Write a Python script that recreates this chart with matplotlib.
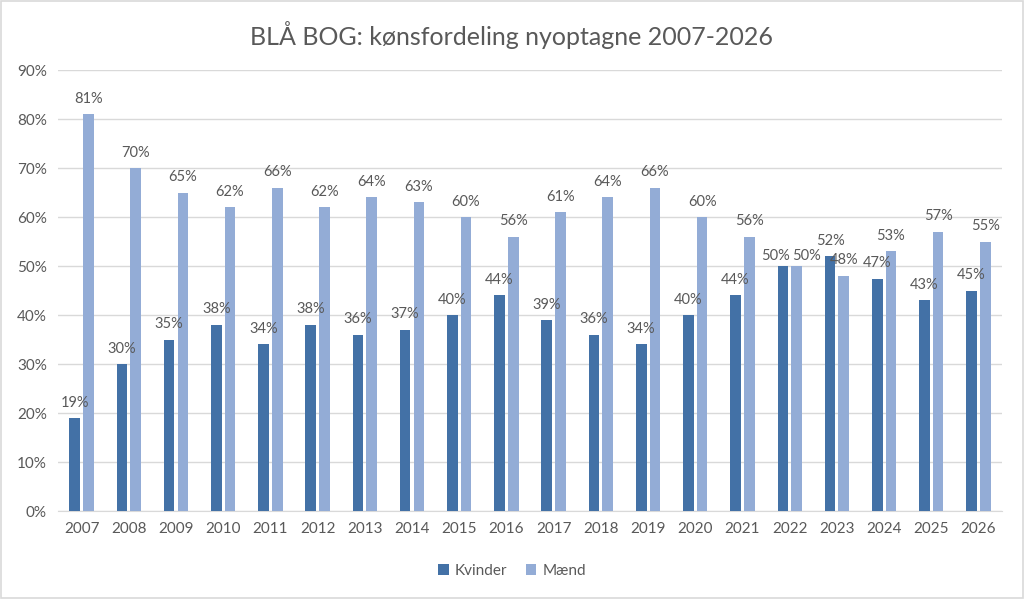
import matplotlib
matplotlib.use("Agg")
from matplotlib import pyplot as plt
from matplotlib.ticker import PercentFormatter
import numpy as np

years = [str(y) for y in range(2007, 2027)]
kvinder = [19, 30, 35, 38, 34, 38, 36, 37, 40, 44, 39, 36, 34, 40, 44, 50, 52, 47.4, 43, 45]
maend = [81, 70, 65, 62, 66, 62, 64, 63, 60, 56, 61, 64, 66, 60, 56, 50, 48, 53, 57, 55]
series_names = ["Kvinder", "Mænd"]
colors = ["#4371A6", "#93ACD6"]

plt.rcParams['font.family'] = ['Lato', 'DejaVu Sans']
text_col = "#595959"

fig = plt.figure(figsize=(10.24, 5.99), dpi=100)
ax = fig.add_axes([0.0566, 0.1469, 0.922, 0.7362])

# labels that were dragged sideways in the original (2022 pair)
nudge = {(0, 15): (-5, -4), (1, 15): (7, -4)}

x = np.arange(len(years))
w = 0.225
gap = 0.065
for si, (vals, off, col, name) in enumerate([(kvinder, -(w + gap) / 2, colors[0], series_names[0]),
                                             (maend, (w + gap) / 2, colors[1], series_names[1])]):
    bars = ax.bar(x + off, vals, width=w, color=col, label=name, zorder=3)
    for i, (b, v) in enumerate(zip(bars, vals)):
        dx, dy = nudge.get((si, i), (0, 0))
        ax.annotate("%d%%" % round(v - 0.01), xy=(b.get_x() + b.get_width() / 2, v),
                    xytext=(dx, 6 + dy), textcoords="offset points",
                    ha="center", va="bottom", fontsize=10.5, color=text_col, zorder=4)

ax.set_xlim(-0.5, len(years) - 0.5)
ax.set_ylim(0, 90)
ax.set_yticks(range(0, 91, 10))
ax.yaxis.set_major_formatter(PercentFormatter(decimals=0))
ax.set_xticks(x)
ax.set_xticklabels(years)
ax.tick_params(axis="both", length=0, colors=text_col, labelsize=11)
ax.tick_params(axis="x", pad=8)
ax.tick_params(axis="y", pad=8)
ax.grid(axis="y", color="#D9D9D9", linewidth=1, zorder=0)
for s in ["top", "right", "left"]:
    ax.spines[s].set_visible(False)
ax.spines["bottom"].set_color("#D9D9D9")

fig.suptitle("BLÅ BOG: kønsfordeling nyoptagne 2007-2026", y=0.965, fontsize=18, color=text_col)

fig.legend(loc="center", bbox_to_anchor=(0.5, 0.047), ncol=2, frameon=False,
           fontsize=11, labelcolor=text_col, handlelength=0.7, handleheight=0.7,
           columnspacing=1.2, handletextpad=0.4)

fig.patches.append(plt.Rectangle((0.001, 0.001), 0.998, 0.997, transform=fig.transFigure,
                                 fill=False, edgecolor="#D9D9D9", linewidth=1.2))

fig.savefig("out.png", dpi=100)
